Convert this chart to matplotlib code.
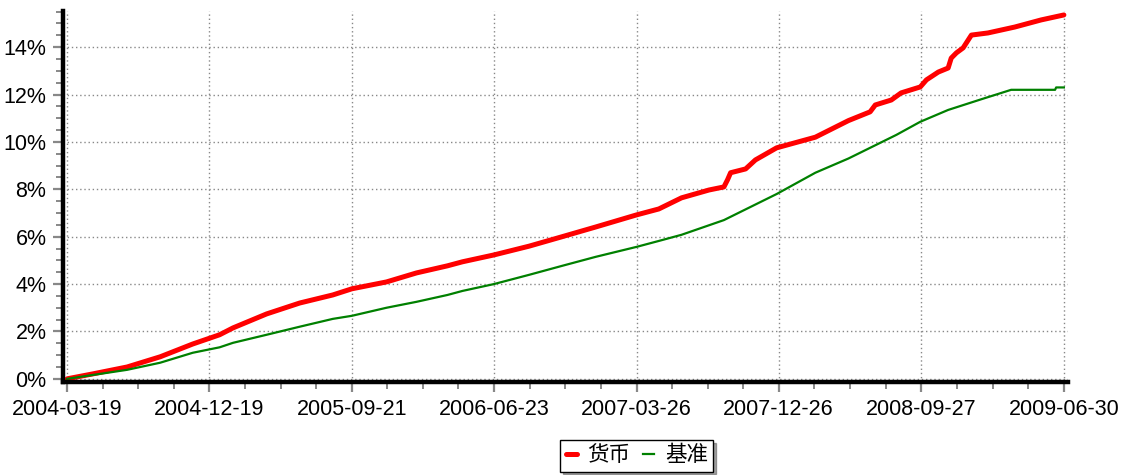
import matplotlib
matplotlib.use('Agg')
import matplotlib.pyplot as plt
from matplotlib.ticker import FuncFormatter, MultipleLocator
import pandas as pd

plt.rcParams['font.family'] = ['Liberation Sans', 'Noto Sans CJK SC', 'DejaVu Sans']

# 货币 (fund) cumulative return, %
fund_dates = ['2004-03-19', '2004-05-08', '2004-07-13', '2004-09-15', '2004-11-17',
              '2005-01-08', '2005-02-03', '2005-04-09', '2005-06-12', '2005-08-15',
              '2005-09-21', '2005-11-27', '2006-01-24', '2006-03-25', '2006-04-23',
              '2006-06-23', '2006-08-30', '2006-11-02', '2007-01-06', '2007-03-26',
              '2007-05-08', '2007-06-21', '2007-08-13', '2007-09-11', '2007-09-18',
              '2007-09-24', '2007-10-23', '2007-11-11', '2007-12-22', '2008-03-06',
              '2008-05-09', '2008-06-20', '2008-06-30', '2008-07-31', '2008-08-19',
              '2008-09-25', '2008-10-07', '2008-10-30', '2008-11-18', '2008-11-24',
              '2008-12-04', '2008-12-17', '2009-01-02', '2009-02-03', '2009-03-27',
              '2009-05-17', '2009-06-30']
fund_vals = [0.00, 0.21, 0.50, 0.93, 1.47,
             1.86, 2.15, 2.74, 3.20, 3.54,
             3.80, 4.09, 4.47, 4.77, 4.94,
             5.23, 5.60, 6.00, 6.41, 6.92,
             7.17, 7.64, 7.97, 8.10, 8.40,
             8.70, 8.86, 9.24, 9.75, 10.20,
             10.90, 11.27, 11.56, 11.77, 12.07,
             12.32, 12.62, 12.95, 13.12, 13.54,
             13.76, 13.97, 14.51, 14.60, 14.85,
             15.15, 15.36]

# 基准 (benchmark) cumulative return, %
bench_dates = ['2004-03-19', '2004-07-13', '2004-09-15', '2004-11-17', '2005-01-08',
               '2005-02-03', '2005-04-09', '2005-06-12', '2005-08-15', '2005-09-21',
               '2005-11-27', '2006-01-24', '2006-03-25', '2006-04-23', '2006-06-23',
               '2006-08-30', '2006-11-02', '2007-01-06', '2007-03-26', '2007-05-08',
               '2007-06-21', '2007-09-11', '2007-12-22', '2008-03-06', '2008-05-09',
               '2008-08-10', '2008-09-25', '2008-11-18', '2009-01-21', '2009-03-20',
               '2009-06-13', '2009-06-15', '2009-06-30']
bench_vals = [0.00, 0.38, 0.68, 1.10, 1.33,
              1.52, 1.86, 2.20, 2.53, 2.66,
              3.00, 3.25, 3.54, 3.71, 4.00,
              4.39, 4.77, 5.15, 5.57, 5.82,
              6.08, 6.70, 7.80, 8.70, 9.30,
              10.30, 10.85, 11.35, 11.80, 12.20,
              12.20, 12.30, 12.30]

tick_dates = ['2004-03-19', '2004-12-19', '2005-09-21', '2006-06-23',
              '2007-03-26', '2007-12-26', '2008-09-27', '2009-06-30']

fund_x = pd.to_datetime(fund_dates)
bench_x = pd.to_datetime(bench_dates)
ticks = pd.to_datetime(tick_dates)

fig = plt.figure(figsize=(11.26, 4.75), dpi=100)
ax = fig.add_axes([0.056, 0.196, 0.8925, 0.781])

ax.plot(fund_x, fund_vals, color='#ff0000', linewidth=3.6, label='货币',
        solid_capstyle='round', solid_joinstyle='round', zorder=3)
ax.plot(bench_x, bench_vals, color='#008000', linewidth=1.6, label='基准', zorder=3)

ax.set_xlim(ticks[0] - pd.Timedelta(days=8), ticks[-1] + pd.Timedelta(days=8))
ax.set_ylim(-0.13, 15.53)

ax.set_xticks(ticks)
ax.set_xticklabels(tick_dates)
minor = []
for a, b in zip(ticks[:-1], ticks[1:]):
    step = (b - a) / 4
    minor += [a + step * k for k in (1, 2, 3)]
ax.set_xticks(minor, minor=True)

ax.yaxis.set_major_locator(MultipleLocator(2))
ax.yaxis.set_minor_locator(MultipleLocator(0.5))
ax.yaxis.set_major_formatter(FuncFormatter(lambda v, p: f'{v:.0f}%'))

ax.grid(True, which='major', color='#888888', linestyle=(0, (1, 2)), linewidth=1.0)

for side in ('top', 'right'):
    ax.spines[side].set_visible(False)
for side in ('left', 'bottom'):
    ax.spines[side].set_linewidth(3.2)
    ax.spines[side].set_color('black')
    ax.spines[side].set_zorder(4)

ax.tick_params(axis='both', which='major', length=7, width=1.6, color='#888888',
               labelsize=15.5, labelcolor='black')
ax.tick_params(axis='y', which='major', pad=5)
ax.tick_params(axis='x', which='major', pad=5)
ax.tick_params(axis='both', which='minor', length=5, width=1.4, color='#888888')

leg = fig.legend(loc='upper center', bbox_to_anchor=(0.5655, 0.074), ncol=2,
                 frameon=True, fancybox=False, shadow=True, fontsize=15.5,
                 handlelength=0.5, handletextpad=0.5, columnspacing=0.6,
                 borderpad=0.25, borderaxespad=0)
leg.get_frame().set_edgecolor('black')
leg.get_frame().set_linewidth(1.0)

fig.savefig('out.png', dpi=100)
